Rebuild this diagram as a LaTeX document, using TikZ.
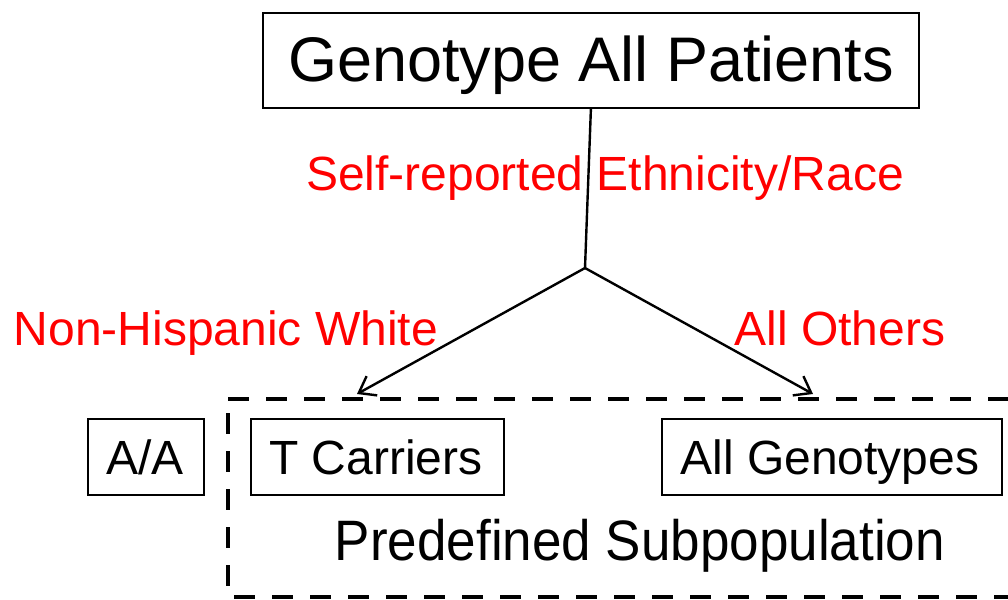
\documentclass[tikz,border=0pt]{standalone}
\usepackage{fontspec}
\setmainfont{Liberation Sans}
\usetikzlibrary{arrows.meta}
\begin{document}
\begin{tikzpicture}[x=1pt,y=-1pt,
  box/.style={draw,line width=1.8pt,inner sep=0pt,anchor=north west},
  lbl/.style={text=red,font=\fontsize{48}{50}\selectfont,inner sep=0pt,anchor=base},
  blk/.style={font=\fontsize{48}{50}\selectfont,inner sep=0pt,anchor=base},
  conn/.style={line width=2.4pt,-{Straight Barb[length=15pt,width=22pt]}}]
\useasboundingbox (0,0) rectangle (1008,599);
\node[box,minimum width=656pt,minimum height=95pt] (top) at (262,12) {};
\node[font=\fontsize{63}{66}\selectfont,inner sep=0pt,anchor=base] (toptext) at (591,82) {Genotype All Patients};
\node[box,minimum width=116pt,minimum height=76pt] (aa) at (87,418) {};
\node[blk] (aat) at (145,474) {A/A};
\node[box,minimum width=253pt,minimum height=76pt] (tc) at (250,418) {};
\node[blk] (tct) at (376,474) {T Carriers};
\node[box,minimum width=340pt,minimum height=76pt] (ag) at (661,418) {};
\node[blk] (agt) at (830,474) {All Genotypes};
\node[font=\fontsize{57}{60}\selectfont,inner sep=0pt,anchor=base] (pre) at (640,560) {\scalebox{0.93}[1]{Predefined Subpopulation}};
\node[lbl] (eth) at (605,190) {Self-reported Ethnicity/Race};
\node[lbl] (nhw) at (226,345) {Non-Hispanic White};
\node[lbl] (oth) at (840,345) {All Others};
\coordinate (j) at (585,268);
\coordinate (la) at (357,394);
\coordinate (ra) at (813,394);
\draw[line width=2.4pt] (top.south) -- (j);
\draw[conn] (j) -- (la);
\draw[conn] (j) -- (ra);
\draw[line width=4pt,dash pattern=on 21pt off 17pt] (228,399) -- (1008,399);
\draw[line width=4pt,dash pattern=on 21pt off 17pt] (228,399) ++(0,14) -- (228,597) -- (1008,597);
\end{tikzpicture}
\end{document}
